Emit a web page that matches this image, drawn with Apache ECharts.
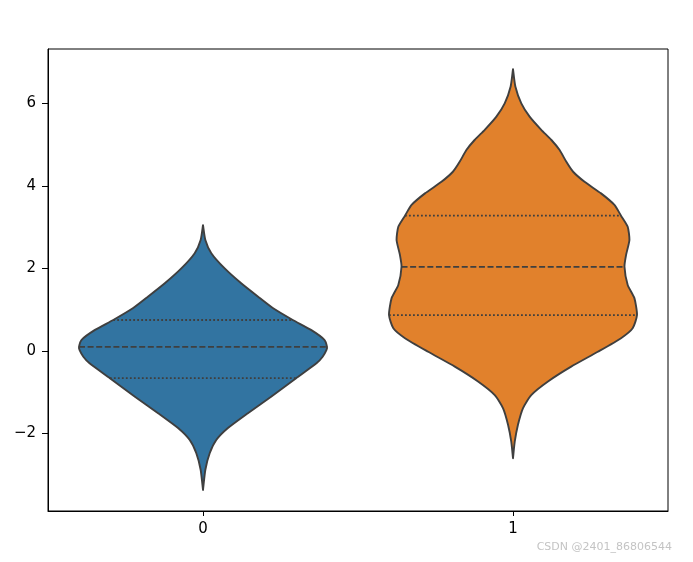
<!DOCTYPE html>
<html>
<head>
<meta charset="utf-8">
<script src="https://cdn.jsdelivr.net/npm/echarts@6/dist/echarts.min.js"></script>
<style>html,body{margin:0;padding:0;background:#fff}#c{width:693px;height:562px}</style>
</head>
<body>
<div id="c"></div>
<script>
// Categories
var categories = ['0', '1'];
// Y tick labels
var yTicks = [-2, 0, 2, 4, 6];

// Violin 0: density profile (value, relative width)
var v0Values = [3.05, 2.69, 2.37, 2.00, 1.64, 1.32, 1.04, 0.75, 0.51, 0.27, 0.10, 0.02, -0.14, -0.30, -0.66, -1.11, -1.51, -1.87, -2.16, -2.48, -2.88, -3.37];
var v0Density = [0, 0.019, 0.067, 0.175, 0.308, 0.442, 0.563, 0.724, 0.871, 0.979, 1.0, 0.995, 0.965, 0.915, 0.751, 0.549, 0.362, 0.201, 0.107, 0.054, 0.019, 0];
var v0Quartiles = [-0.66, 0.10, 0.75];

// Violin 1: density profile (value, relative width)
var v1Values = [6.83, 6.41, 6.00, 5.68, 5.36, 5.12, 4.87, 4.59, 4.35, 4.10, 3.82, 3.54, 3.28, 3.01, 2.69, 2.33, 2.04, 1.60, 1.28, 0.87, 0.55, 0.31, -0.02, -0.38, -0.74, -1.07, -1.39, -1.79, -2.20, -2.60];
var v1Density = [0, 0.019, 0.067, 0.134, 0.228, 0.308, 0.376, 0.429, 0.483, 0.577, 0.71, 0.818, 0.871, 0.925, 0.939, 0.912, 0.899, 0.925, 0.979, 1.0, 0.965, 0.871, 0.684, 0.469, 0.282, 0.147, 0.080, 0.040, 0.014, 0];
var v1Quartiles = [0.87, 2.04, 3.28];

var colors = ['#3274a1', '#e1812c'];
var profiles = [
  {values: v0Values, density: v0Density, quart: v0Quartiles},
  {values: v1Values, density: v1Density, quart: v1Quartiles}
];

function densityAt(p, v) {
  for (var i = 0; i < p.values.length - 1; i++) {
    var a = p.values[i], b = p.values[i + 1];
    if (v <= a && v >= b) {
      var t = (a - b) === 0 ? 0 : (a - v) / (a - b);
      return p.density[i] + t * (p.density[i + 1] - p.density[i]);
    }
  }
  return 0;
}

var edge = '#3f3f3f';
function renderItem(params, api) {
  var ci = api.value(0);
  var p = profiles[ci];
  var bw = api.size([1, 0])[0];
  var maxHalf = bw * 0.4;
  var right = [], left = [];
  for (var i = 0; i < p.values.length; i++) {
    var c = api.coord([ci, p.values[i]]);
    var w = p.density[i] * maxHalf;
    right.push([c[0] + w, c[1]]);
    left.unshift([c[0] - w, c[1]]);
  }
  var pts = right.concat(left);
  var children = [{
    type: 'polygon',
    shape: {points: pts, smooth: 0.2},
    style: {fill: colors[ci], stroke: edge, lineWidth: 1.9, lineJoin: 'round'}
  }];
  for (var q = 0; q < 3; q++) {
    var v = p.quart[q];
    var c2 = api.coord([ci, v]);
    var w2 = densityAt(p, v) * maxHalf;
    var isMed = q === 1;
    children.push({
      type: 'line',
      shape: {x1: c2[0] - w2, y1: c2[1], x2: c2[0] + w2, y2: c2[1]},
      style: {
        stroke: edge,
        lineWidth: 1.8,
        lineDash: isMed ? [6, 2.6] : [1.8, 2.2]
      }
    });
  }
  return {type: 'group', children: children};
}

var chart = echarts.init(document.getElementById('c'), null, {renderer: 'canvas'});
chart.setOption({
  animation: false,
  backgroundColor: '#fff',
  grid: {left: 48, right: 25, top: 49, bottom: 51, show: true, borderColor: '#000', borderWidth: 1, backgroundColor: 'transparent'},
  xAxis: {
    type: 'category',
    data: categories,
    boundaryGap: true,
    axisLine: {show: true, onZero: false, lineStyle: {color: '#000', width: 1}},
    axisTick: {show: true, alignWithLabel: true, length: 5, lineStyle: {color: '#000', width: 1}},
    axisLabel: {color: '#000', fontSize: 15, fontFamily: 'DejaVu Sans', margin: 11},
    splitLine: {show: false}
  },
  yAxis: {
    type: 'value',
    min: -3.88,
    max: 7.32,
    axisLine: {show: true, lineStyle: {color: '#000', width: 1}},
    axisTick: {show: true, length: 6, customValues: yTicks, lineStyle: {color: '#000', width: 1}},
    axisLabel: {
      color: '#000', fontSize: 15, fontFamily: 'DejaVu Sans', margin: 12,
      customValues: yTicks,
      formatter: function (v) { return String(v).replace('-', '\u2212'); }
    },
    splitLine: {show: false}
  },
  graphic: [{
    type: 'text',
    right: 21,
    top: 542,
    style: {text: 'CSDN @2401_86806544', fill: '#c4c4c4', font: '11px "DejaVu Sans"'}
  }],
  series: [{
    type: 'custom',
    renderItem: renderItem,
    data: [[0], [1]],
    encode: {x: 0},
    clip: false
  }]
});
</script>
</body>
</html>
